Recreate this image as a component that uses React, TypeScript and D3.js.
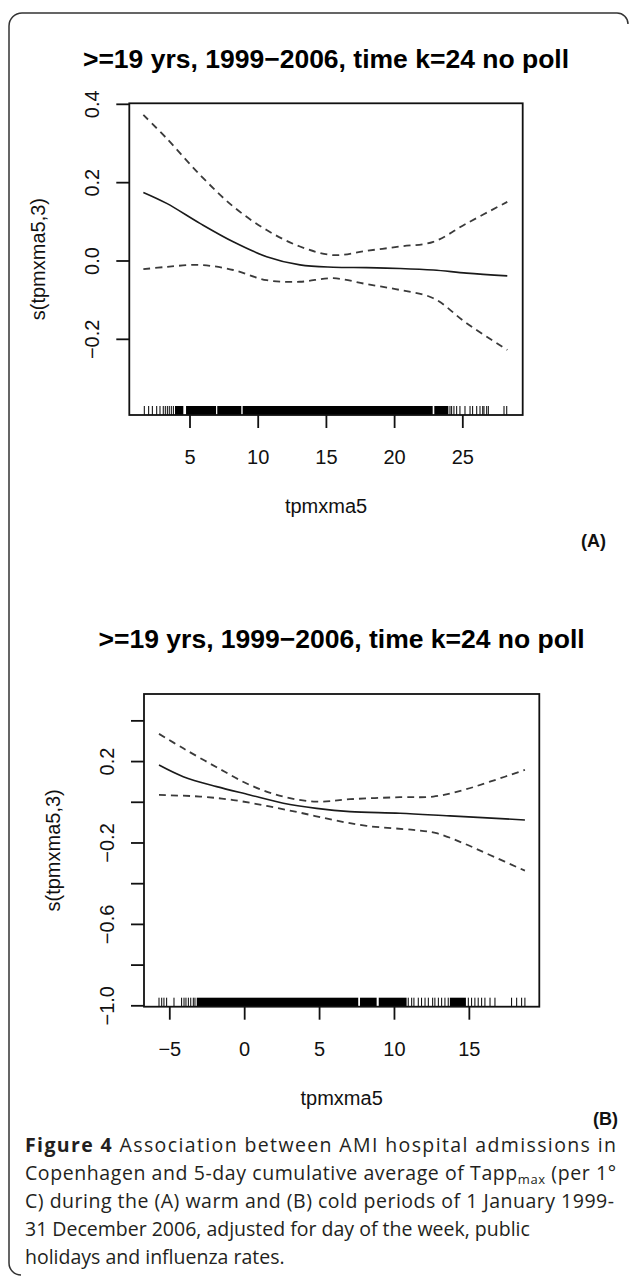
import React from "react";
import * as d3 from "d3";

// ---------- Data ----------
// Panel A (warm period)
const aX = [1.58, 3.29, 5.73, 8.17, 10.62, 13.06, 15.5, 17.95, 20.39, 22.84, 25.28, 28.26];
const aFit = [0.175, 0.147, 0.096, 0.049, 0.011, -0.01, -0.016, -0.017, -0.019, -0.023, -0.031, -0.038];
const aUpper = [0.373, 0.313, 0.22, 0.139, 0.079, 0.037, 0.015, 0.026, 0.037, 0.049, 0.096, 0.151];
const aLower = [-0.021, -0.015, -0.01, -0.023, -0.049, -0.053, -0.044, -0.059, -0.074, -0.095, -0.159, -0.227];
const aRugTicks = [1.65, 1.97, 2.24, 2.56, 2.8, 3.04, 3.19, 3.34, 3.48, 3.63, 3.78, 24.06, 24.18, 24.35, 24.55, 24.79, 25.16, 25.53, 25.72, 26.02, 26.26, 26.46, 26.55, 26.75, 26.87, 28.02, 28.22];
const aRugDense: [number, number][] = [[3.9, 4.51], [4.71, 6.91], [7.0, 8.76], [8.86, 22.79], [22.91, 23.94]];
const aXTicks = [5, 10, 15, 20, 25];
const aYTicks = [-0.2, 0, 0.2, 0.4];
const aYLabels = [-0.2, 0, 0.2, 0.4];

// Panel B (cold period)
const bFitX = [-5.72, -4.1, -1.87, 0.35, 2.58, 4.8, 7.03, 10.37, 13.7, 18.71];
const bFit = [0.183, 0.126, 0.077, 0.036, -0.005, -0.03, -0.046, -0.054, -0.067, -0.087];
const bUpperX = [-5.72, -4.1, -1.87, 0.35, 2.58, 4.8, 7.03, 10.37, 12.59, 14.59, 16.37, 18.71];
const bUpper = [0.336, 0.265, 0.172, 0.085, 0.028, 0.003, 0.015, 0.025, 0.028, 0.06, 0.101, 0.159];
const bLowerX = [-5.72, -2.98, -0.76, 1.47, 3.69, 5.92, 8.14, 11.25, 12.81, 14.59, 16.37, 18.71];
const bLower = [0.036, 0.028, 0.011, -0.018, -0.051, -0.087, -0.116, -0.136, -0.152, -0.201, -0.259, -0.336];
const bRugTicks = [-5.72, -5.54, -5.39, -5.21, -4.72, -4.21, -4.05, -3.92, -3.76, -3.6, -3.43, -3.32, 10.92, 11.15, 11.3, 11.59, 11.81, 12.04, 12.26, 12.55, 12.7, 12.93, 13.15, 13.37, 13.59, 14.93, 15.15, 15.37, 15.59, 15.82, 16.04, 16.38, 16.71, 17.82, 18.16, 18.49, 18.71];
const bRugDense: [number, number][] = [[-3.2, 7.58], [7.7, 8.81], [8.95, 10.81], [13.7, 14.77]];
const bXTicks = [-5, 0, 5, 10, 15];
const bYTicks = [-1.0, -0.8, -0.6, -0.4, -0.2, 0, 0.2, 0.4];
const bYLabels = [-1.0, -0.6, -0.2, 0.2];

const titleText = ">=19 yrs, 1999\u22122006, time k=24 no poll";
const xTitle = "tpmxma5";
const yTitle = "s(tpmxma5,3)";

const FONT = "'Liberation Sans', Arial, Helvetica, sans-serif";
const CAP_FONT = "'Open Sans', 'Noto Sans', sans-serif";

const fmtY = (v: number) => (v < 0 ? "\u2212" : "") + Math.abs(v).toFixed(1);
const fmtX = (v: number) => (v < 0 ? "\u2212" : "") + Math.abs(v).toString();

type PanelProps = {
  left: number; right: number; top: number; bottom: number;
  xDomain: [number, number]; yDomain: [number, number];
  series: { x: number[]; y: number[]; dashed: boolean }[];
  rugTicks: number[]; rugDense: [number, number][];
  xTicks: number[]; yTicks: number[]; yLabels: number[];
  titleY: number; tag: string; tagX: number; tagY: number;
};

function Panel(p: PanelProps) {
  const x = d3.scaleLinear().domain(p.xDomain).range([p.left, p.right]);
  const y = d3.scaleLinear().domain(p.yDomain).range([p.bottom, p.top]);
  const line = d3
    .line<[number, number]>()
    .x((d) => x(d[0]))
    .y((d) => y(d[1]))
    .curve(d3.curveCatmullRom.alpha(0.5));
  const cx = (p.left + p.right) / 2;
  const cy = (p.top + p.bottom) / 2;
  const tickLen = 13;
  const rugLen = 9;
  return (
    <g>
      <text x={cx} y={p.titleY} textAnchor="middle" fontFamily={FONT} fontWeight="bold" fontSize={26.5} fill="#000">
        {titleText}
      </text>
      {/* rug */}
      {p.rugDense.map((r, i) => (
        <rect key={"d" + i} x={x(r[0])} y={p.bottom - rugLen} width={x(r[1]) - x(r[0])} height={rugLen} fill="#000" />
      ))}
      {p.rugTicks.map((v, i) => (
        <line key={"r" + i} x1={x(v)} x2={x(v)} y1={p.bottom} y2={p.bottom - rugLen} stroke="#000" strokeWidth={1} />
      ))}
      {/* curves */}
      {p.series.map((s, i) => (
        <path
          key={"s" + i}
          d={line(s.x.map((v, j) => [v, s.y[j]] as [number, number])) || ""}
          fill="none"
          stroke={s.dashed ? "#3a3a3a" : "#1a1a1a"}
          strokeWidth={s.dashed ? 1.8 : 1.6}
          strokeDasharray={s.dashed ? "7,5" : undefined}
        />
      ))}
      {/* box */}
      <rect x={p.left} y={p.top} width={p.right - p.left} height={p.bottom - p.top} fill="none" stroke="#111" strokeWidth={1.8} />
      {/* x axis */}
      {p.xTicks.map((v, i) => (
        <g key={"xt" + i}>
          <line x1={x(v)} x2={x(v)} y1={p.bottom} y2={p.bottom + tickLen} stroke="#111" strokeWidth={1.8} />
          <text x={x(v)} y={p.bottom + 49} textAnchor="middle" fontFamily={FONT} fontSize={20} fill="#111">
            {fmtX(v)}
          </text>
        </g>
      ))}
      {/* y axis */}
      {p.yTicks.map((v, i) => (
        <line key={"yt" + i} x1={p.left} x2={p.left - tickLen} y1={y(v)} y2={y(v)} stroke="#111" strokeWidth={1.8} />
      ))}
      {p.yLabels.map((v, i) => (
        <text
          key={"yl" + i}
          transform={`translate(${p.left - 30},${y(v)}) rotate(-90)`}
          textAnchor="middle"
          fontFamily={FONT}
          fontSize={20}
          fill="#111"
        >
          {fmtY(v)}
        </text>
      ))}
      <text x={cx} y={p.bottom + 98} textAnchor="middle" fontFamily={FONT} fontSize={20} fill="#111">
        {xTitle}
      </text>
      <text transform={`translate(${p.left - 84},${cy}) rotate(-90)`} textAnchor="middle" fontFamily={FONT} fontSize={20} fill="#111">
        {yTitle}
      </text>
      <text x={p.tagX} y={p.tagY} textAnchor="end" fontFamily={FONT} fontWeight="bold" fontSize={18} fill="#111">
        {p.tag}
      </text>
    </g>
  );
}

export default function App() {
  return (
    <svg width={629} height={1276} style={{ position: "absolute", left: 0, top: 0, background: "#fff" }}>
      <rect x={0} y={0} width={629} height={1276} fill="#fff" />
      <path
        d="M 628 24 A 11 11 0 0 0 617 13 L 22 13 A 13 13 0 0 0 9 26 L 9 1263 A 12 12 0 0 0 21 1275"
        fill="none"
        stroke="#333"
        strokeWidth={1.5}
      />
      <Panel
        left={129.3} right={522.7} top={103.3} bottom={415}
        xDomain={[0.55, 29.39]} yDomain={[-0.3932, 0.4026]}
        series={[
          { x: aX, y: aFit, dashed: false },
          { x: aX, y: aUpper, dashed: true },
          { x: aX, y: aLower, dashed: true },
        ]}
        rugTicks={aRugTicks} rugDense={aRugDense}
        xTicks={aXTicks} yTicks={aYTicks} yLabels={aYLabels}
        titleY={68} tag="(A)" tagX={606} tagY={547}
      />
      <Panel
        left={144} right={539.3} top={694} bottom={1006.7}
        xDomain={[-6.722, 19.67]} yDomain={[-1.0044, 0.532]}
        series={[
          { x: bFitX, y: bFit, dashed: false },
          { x: bUpperX, y: bUpper, dashed: true },
          { x: bLowerX, y: bLower, dashed: true },
        ]}
        rugTicks={bRugTicks} rugDense={bRugDense}
        xTicks={bXTicks} yTicks={bYTicks} yLabels={bYLabels}
        titleY={648} tag="(B)" tagX={618} tagY={1125}
      />
      <g fontFamily={CAP_FONT} fontSize={19.5} fill="#231f20">
        <text x={25} y={1152} textLength={591} lengthAdjust="spacing">
          <tspan fontWeight="bold">Figure 4</tspan> Association between AMI hospital admissions in
        </text>
        <text x={25} y={1180} textLength={591} lengthAdjust="spacing">
          Copenhagen and 5-day cumulative average of Tapp
          <tspan fontSize={13} dy={4}>max</tspan>
          <tspan dy={-4}> (per 1°</tspan>
        </text>
        <text x={25} y={1208} textLength={589} lengthAdjust="spacing">
          C) during the (A) warm and (B) cold periods of 1 January 1999-
        </text>
        <text x={25} y={1236}>
          31 December 2006, adjusted for day of the week, public
        </text>
        <text x={25} y={1264}>
          holidays and influenza rates.
        </text>
      </g>
    </svg>
  );
}
